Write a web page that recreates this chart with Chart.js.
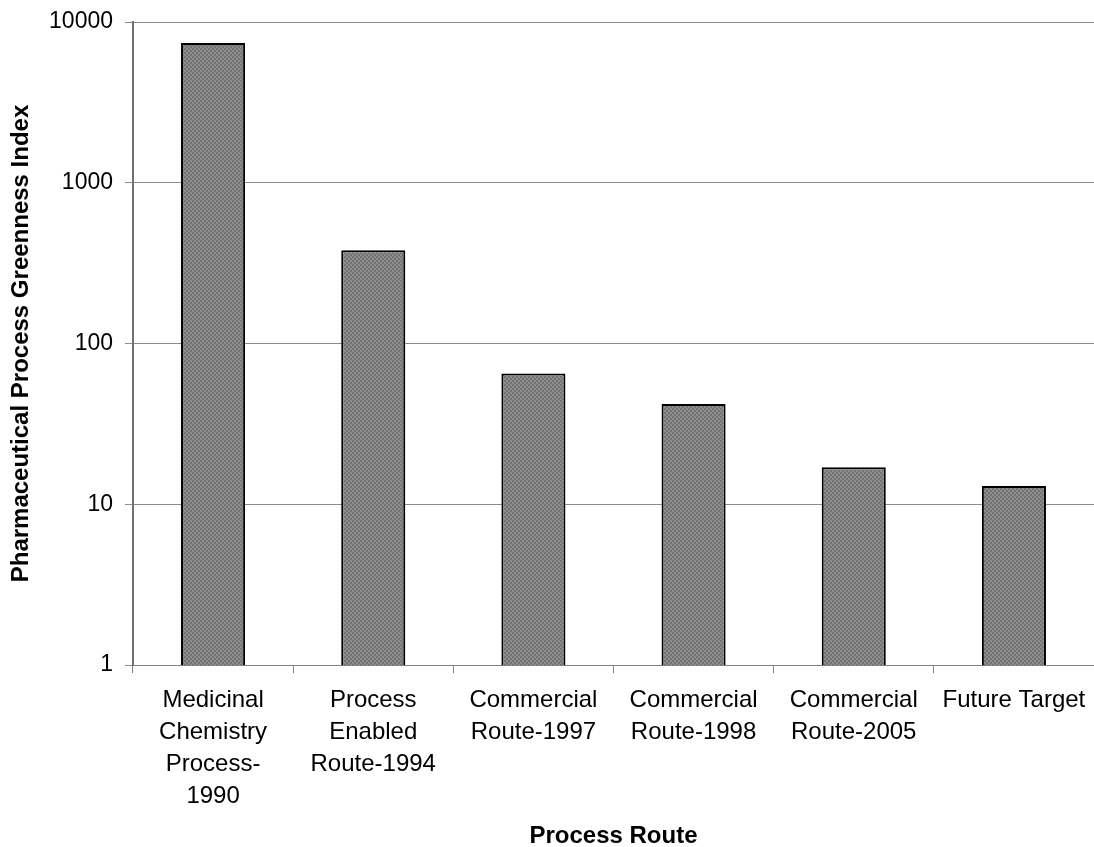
<!DOCTYPE html>
<html>
<head>
<meta charset="utf-8">
<script src="https://cdn.jsdelivr.net/npm/chart.js@4/dist/chart.umd.min.js"></script>
<style>
  html, body { margin: 0; padding: 0; background: #ffffff; }
  #wrap { width: 1094px; height: 847px; }
</style>
</head>
<body>
<div id="wrap"><canvas id="chart" width="1094" height="847"></canvas></div>
<script>
// Process routes (x categories), multi-line labels
const routes = [
  ['Medicinal', 'Chemistry', 'Process-', '1990'],
  ['Process', 'Enabled', 'Route-1994'],
  ['Commercial', 'Route-1997'],
  ['Commercial', 'Route-1998'],
  ['Commercial', 'Route-2005'],
  ['Future Target']
];

// Pharmaceutical Process Greenness Index per route
const greennessIndex = [7400, 380, 65, 42, 17, 13];

// Logarithmic y-axis tick values
const yTicks = [1, 10, 100, 1000, 10000];

const FONT = '"Liberation Sans", Arial, Helvetica, sans-serif';

// Fine checkered grey fill for the bars
function checkerPattern() {
  const c = document.createElement('canvas');
  c.width = 4; c.height = 4;
  const g = c.getContext('2d');
  g.fillStyle = '#8c8c8c';
  g.fillRect(0, 0, 4, 4);
  g.fillStyle = '#747474';
  g.fillRect(0, 0, 2, 2);
  g.fillRect(2, 2, 2, 2);
  return g.createPattern(c, 'repeat');
}

const ctx = document.getElementById('chart').getContext('2d');

new Chart(ctx, {
  type: 'bar',
  data: {
    labels: routes,
    datasets: [{
      data: greennessIndex,
      backgroundColor: checkerPattern(),
      borderColor: '#000000',
      borderWidth: 2,
      borderSkipped: 'bottom',
      barPercentage: 0.4,
      categoryPercentage: 1.0
    }]
  },
  options: {
    responsive: false,
    animation: false,
    events: [],
    layout: { padding: { top: 22, left: 0, right: 0, bottom: 0 } },
    plugins: {
      legend: { display: false },
      tooltip: { enabled: false }
    },
    scales: {
      x: {
        type: 'category',
        offset: true,
        grid: {
          offset: true,
          drawOnChartArea: false,
          drawTicks: true,
          tickLength: 8,
          color: '#808080',
          lineWidth: 1
        },
        border: { display: true, color: '#808080', width: 1 },
        ticks: {
          color: '#000000',
          font: { family: FONT, size: 24, lineHeight: '32px' },
          padding: 11,
          maxRotation: 0,
          minRotation: 0,
          autoSkip: false
        },
        title: {
          display: true,
          text: 'Process Route',
          color: '#000000',
          font: { family: FONT, size: 24, weight: 'bold', lineHeight: '22px' },
          padding: { top: 0, bottom: 0 }
        },
        afterFit(scale) {
          scale.height = 182;
          scale.paddingLeft = 0;
          scale.paddingRight = 0;
        }
      },
      y: {
        type: 'logarithmic',
        min: 1,
        max: 10000,
        afterBuildTicks(scale) {
          scale.ticks = yTicks.map(v => ({ value: v, major: true }));
        },
        grid: {
          drawOnChartArea: true,
          drawTicks: true,
          tickLength: 8,
          color: '#8c8c8c',
          lineWidth: 1
        },
        border: { display: true, color: '#707070', width: 2 },
        ticks: {
          color: '#000000',
          font: { family: FONT, size: 23 },
          padding: 12,
          callback: (v) => String(v)
        },
        title: {
          display: true,
          text: 'Pharmaceutical Process Greenness Index',
          color: '#000000',
          font: { family: FONT, size: 24, weight: 'bold', lineHeight: '24px' },
          padding: { top: 9, bottom: 0 }
        },
        afterFit(scale) {
          scale.width = 133;
          scale.paddingTop = 0;
          scale.paddingBottom = 0;
        }
      }
    }
  }
});
</script>
</body>
</html>
